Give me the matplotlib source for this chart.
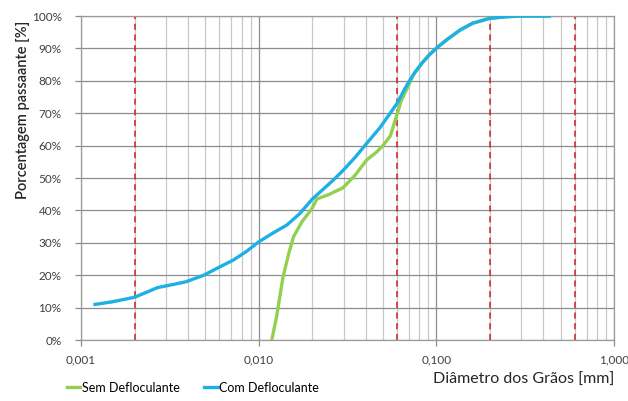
import matplotlib
matplotlib.use('Agg')
import matplotlib.pyplot as plt
from matplotlib.ticker import FixedLocator, FuncFormatter, LogLocator, NullFormatter

plt.rcParams['font.family'] = ['Lato', 'DejaVu Sans']

# Com Defloculante (blue)
com_x = [0.0012, 0.0015, 0.002, 0.0027, 0.0034, 0.0039, 0.0049, 0.006, 0.0072, 0.0085,
         0.010, 0.012, 0.0144, 0.017, 0.020, 0.023, 0.0263, 0.030, 0.035, 0.0405,
         0.048, 0.060, 0.066, 0.071, 0.076, 0.083, 0.091, 0.101, 0.115, 0.136,
         0.16, 0.2, 0.25, 0.3, 0.43]
com_y = [11, 11.8, 13.2, 16.2, 17.3, 18, 20, 22.5, 24.7, 27.3,
         30.3, 33, 35.5, 39, 43.5, 46.5, 49.4, 52.5, 56.5, 60.7,
         65.5, 73, 77.3, 80.3, 82.8, 85.5, 88, 90.3, 92.8, 95.7,
         97.8, 99.3, 99.8, 100, 100]

# Sem Defloculante (green)
sem_x = [0.01184, 0.0126, 0.0137, 0.0148, 0.0157, 0.0175, 0.0199, 0.0212, 0.025, 0.0298,
         0.035, 0.0405, 0.046, 0.0503, 0.055, 0.0598, 0.0635, 0.0678, 0.0741, 0.083,
         0.091, 0.101, 0.115, 0.136, 0.16, 0.2, 0.25, 0.3, 0.43]
sem_y = [0, 7.2, 19.5, 27, 31.9, 36.5, 40.5, 43.5, 45, 47,
         51, 55.6, 58, 60.2, 63, 69.4, 74, 77.2, 81.8, 85.5,
         88, 90.3, 92.8, 95.7, 97.8, 99.3, 99.8, 100, 100]

# peneiras / limites (red dashed)
limites = [0.002, 0.06, 0.2, 0.6]

x_ticks = [0.001, 0.01, 0.1, 1.0]
x_labels = ['0,001', '0,010', '0,100', '1,000']
y_ticks = list(range(0, 101, 10))

fig = plt.figure(figsize=(6.28, 4.01), dpi=100)
ax = fig.add_axes([0.129, 0.152, 0.849, 0.808])

ax.set_xscale('log')
ax.set_xlim(0.001, 1.0)
ax.set_ylim(0, 100)

# grid
ax.xaxis.set_major_locator(FixedLocator(x_ticks))
ax.xaxis.set_minor_locator(LogLocator(base=10, subs=range(2, 10)))
ax.xaxis.set_minor_formatter(NullFormatter())
ax.set_xticklabels(x_labels)
ax.set_yticks(y_ticks)
ax.yaxis.set_major_formatter(FuncFormatter(lambda v, p: '%d%%' % v))
ax.grid(True, which='major', color='#8c8c8c', linewidth=0.9)
ax.grid(True, which='minor', axis='x', color='#c8c8c8', linewidth=0.9)
ax.set_axisbelow(True)

for s in ax.spines.values():
    s.set_color('#9a9a9a')
    s.set_linewidth(0.9)

ax.tick_params(axis='both', which='major', labelsize=8.5, colors='#8c8c8c',
               labelcolor='#404040', length=4, width=0.9)
ax.tick_params(axis='x', which='minor', length=0)
ax.tick_params(axis='x', which='major', pad=6)
ax.tick_params(axis='y', which='major', pad=10)

for xv in limites:
    ax.axvline(xv, color='#d02020', linestyle=(0, (4, 3)), linewidth=1.1, zorder=2)

ax.plot(sem_x, sem_y, color='#92d050', linewidth=2.4, label='Sem Defloculante',
        solid_joinstyle='round', zorder=3)
ax.plot(com_x, com_y, color='#1cb0e6', linewidth=2.4, label='Com Defloculante',
        solid_joinstyle='round', zorder=4)

ax.set_ylabel('Porcentagem passaante [%]', fontsize=10.5, fontweight='semibold',
              color='#262626')
ax.yaxis.set_label_coords(-0.095, 0.71)
ax.set_xlabel('Diâmetro dos Grãos [mm]', fontsize=11.5, color='#262626', ha='right')
ax.xaxis.set_label_coords(1.0, -0.1)

fig.legend(loc='lower left', bbox_to_anchor=(0.088, -0.01), ncol=2, frameon=False,
           fontsize=9, handlelength=1.1, handletextpad=0.1, columnspacing=2.0)

fig.savefig('out.png', dpi=100)
